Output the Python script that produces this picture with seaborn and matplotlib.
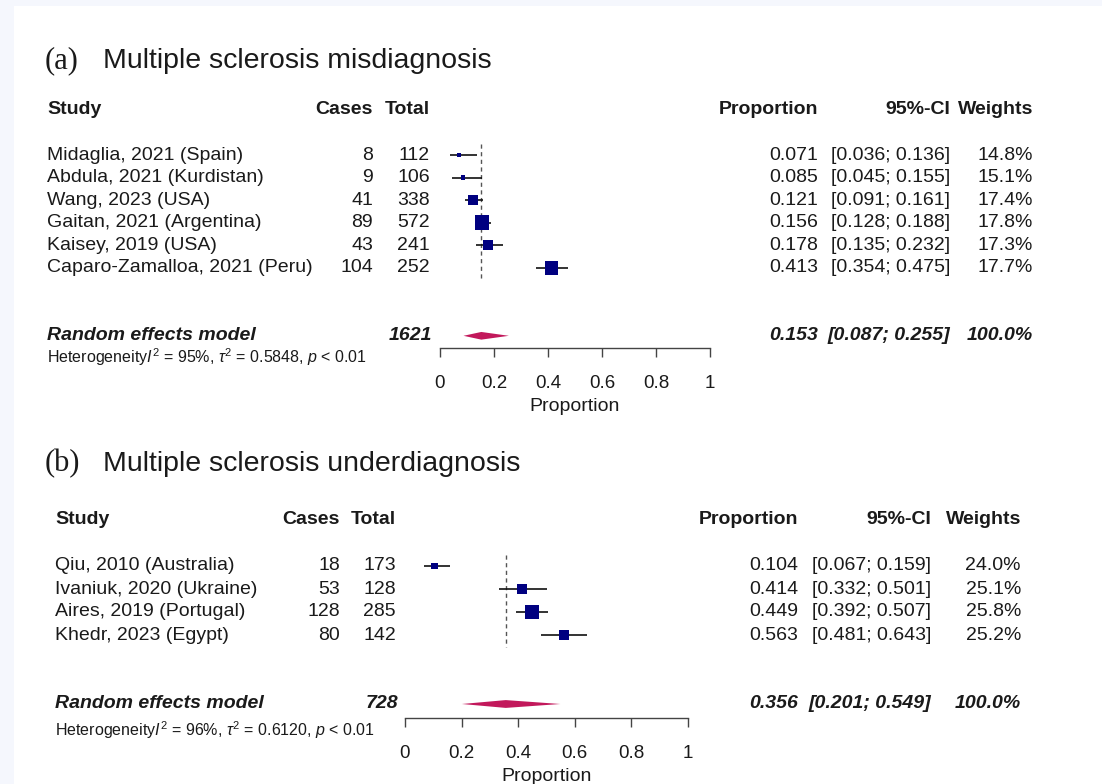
import numpy as np
import pandas as pd
import matplotlib
matplotlib.use("Agg")
import matplotlib.pyplot as plt
import matplotlib.transforms as mtransforms
from matplotlib.patches import Rectangle
import seaborn as sns

# ---------------------------------------------------------------
# data: (a) misdiagnosis
# ---------------------------------------------------------------
mis_studies = ["Midaglia, 2021 (Spain)", "Abdula, 2021 (Kurdistan)", "Wang, 2023 (USA)",
               "Gaitan, 2021 (Argentina)", "Kaisey, 2019 (USA)", "Caparo-Zamalloa, 2021 (Peru)"]
mis_cases = [8, 9, 41, 89, 43, 104]
mis_totals = [112, 106, 338, 572, 241, 252]
mis_prop = [0.071, 0.085, 0.121, 0.156, 0.178, 0.413]
mis_lo = [0.036, 0.045, 0.091, 0.128, 0.135, 0.354]
mis_hi = [0.136, 0.155, 0.161, 0.188, 0.232, 0.475]
mis_weights = [14.8, 15.1, 17.4, 17.8, 17.3, 17.7]
mis_re = [0.153, 0.087, 0.255]
mis_n = 1621
mis_het = ["95%", "0.5848", "0.01"]

# ---------------------------------------------------------------
# data: (b) underdiagnosis
# ---------------------------------------------------------------
und_studies = ["Qiu, 2010 (Australia)", "Ivaniuk, 2020 (Ukraine)",
               "Aires, 2019 (Portugal)", "Khedr, 2023 (Egypt)"]
und_cases = [18, 53, 128, 80]
und_totals = [173, 128, 285, 142]
und_prop = [0.104, 0.414, 0.449, 0.563]
und_lo = [0.067, 0.332, 0.392, 0.481]
und_hi = [0.159, 0.501, 0.507, 0.643]
und_weights = [24.0, 25.1, 25.8, 25.2]
und_re = [0.356, 0.201, 0.549]
und_n = 728
und_het = ["96%", "0.6120", "0.01"]

tick_vals = [0, 0.2, 0.4, 0.6, 0.8, 1]
tick_labels = ["0", "0.2", "0.4", "0.6", "0.8", "1"]

# ---------------------------------------------------------------
W, H = 1102, 784
TXT = "#1a1a1a"
NAVY = "#000080"
DIAMOND = "#c2185b"

sns.set_theme(style="white")
plt.rcParams["font.family"] = ["Liberation Sans", "DejaVu Sans"]
plt.rcParams["mathtext.fontset"] = "custom"
plt.rcParams["mathtext.rm"] = "Liberation Sans"
plt.rcParams["mathtext.it"] = "Liberation Sans:italic"


def fx(px):
    return px / W


def fy(py):
    return 1 - py / H


def draw_panel(fig, letter, title, title_y, studies, cases, totals, prop, lo, hi, weights,
               re, n_total, het, geo):
    k = len(studies)
    rows = np.arange(1, k + 1)
    re_row = geo["re_row"]
    top_row = -1.6
    dy = geo["dy"]
    y_top_px = geo["y1"] + (top_row - 1) * dy
    y_bot_px = geo["y1"] + (geo["axis_row"] - 1) * dy
    ax = fig.add_axes([fx(geo["x0"]), fy(y_bot_px), fx(geo["x1"]) - fx(geo["x0"]),
                       (y_bot_px - y_top_px) / H])
    ax.set_facecolor("none")

    # box size from inverse variance (logit scale), area ~ weight
    fe_w = np.array(cases) * (np.array(totals) - np.array(cases)) / np.array(totals)
    box_s = (1.7 * np.sqrt(fe_w) * 0.72) ** 2
    df = pd.DataFrame({"prop": prop, "row": rows, "lo": lo, "hi": hi, "box": box_s})

    ax.hlines(df["row"], df["lo"], df["hi"], color="#111111", lw=1.2, zorder=2)
    sns.scatterplot(data=df, x="prop", y="row", size="box",
                    sizes=(box_s.min(), box_s.max()), size_norm=(box_s.min(), box_s.max()),
                    marker="s", color=NAVY, linewidth=0, legend=False, ax=ax, zorder=3)
    ax.vlines(re[0], 0.5, k + 0.5, color="#555555", lw=1, linestyles=(0, (3, 2.5)), zorder=1)
    h = 0.17
    ax.fill([re[1], re[0], re[2], re[0]], [re_row, re_row - h, re_row, re_row + h],
            color=DIAMOND, lw=0, zorder=3)

    ax.set_xlim(0, 1)
    ax.set_ylim(geo["axis_row"], top_row)
    ax.set_yticks([])
    ax.set_xticks(tick_vals)
    ax.set_xticklabels(tick_labels)
    ax.tick_params(axis="x", direction="out", length=6.5, width=1, color="#444444",
                   pad=13, labelsize=13.5, labelcolor=TXT, bottom=True)
    ax.set_xlabel("Proportion", fontsize=14, color=TXT, labelpad=4)
    ax.set_ylabel("")
    sns.despine(ax=ax, left=True)
    ax.spines["bottom"].set_color("#444444")
    ax.spines["bottom"].set_linewidth(1)

    tr = mtransforms.blended_transform_factory(fig.transFigure, ax.transData)
    fs = 14
    c = geo["cols"]
    kw = dict(transform=tr, fontsize=fs, color=TXT, va="center", clip_on=False)

    # header
    ax.text(fx(c["study"]), -1, "Study", ha="left", fontweight="bold", **kw)
    ax.text(fx(c["cases"]), -1, "Cases", ha="right", fontweight="bold", **kw)
    ax.text(fx(c["total"]), -1, "Total", ha="right", fontweight="bold", **kw)
    ax.text(fx(c["prop"]), -1, "Proportion", ha="right", fontweight="bold", **kw)
    ax.text(fx(c["ci"]), -1, "95%-CI", ha="right", fontweight="bold", **kw)
    ax.text(fx(c["w"]), -1, "Weights", ha="right", fontweight="bold", **kw)

    for i in range(k):
        r = rows[i]
        ax.text(fx(c["study"]), r, studies[i], ha="left", **kw)
        ax.text(fx(c["cases"]), r, str(cases[i]), ha="right", **kw)
        ax.text(fx(c["total"]), r, str(totals[i]), ha="right", **kw)
        ax.text(fx(c["prop"]), r, f"{prop[i]:.3f}", ha="right", **kw)
        ax.text(fx(c["ci"]), r, f"[{lo[i]:.3f}; {hi[i]:.3f}]", ha="right", **kw)
        ax.text(fx(c["w"]), r, f"{weights[i]:.1f}%", ha="right", **kw)

    bi = dict(fontweight="bold", fontstyle="italic")
    ax.text(fx(c["study"]), re_row, "Random effects model", ha="left", **bi, **kw)
    ax.text(fx(c["n"]), re_row, str(n_total), ha="right", **bi, **kw)
    ax.text(fx(c["prop"]), re_row, f"{re[0]:.3f}", ha="right", **bi, **kw)
    ax.text(fx(c["ci"]), re_row, f"[{re[1]:.3f}; {re[2]:.3f}]", ha="right", **bi, **kw)
    ax.text(fx(c["w"]), re_row, "100.0%", ha="right", **bi, **kw)

    fig.text(fx(c["study"]), fy(geo["het_y"]),
             r"Heterogeneity$I^2$ = " + het[0] + r", $\tau^2$ = " + het[1]
             + r", $p$ < " + het[2],
             ha="left", va="center", fontsize=11.5, color=TXT)

    # panel title
    fig.text(fx(45), fy(title_y), f"({letter})", ha="left", va="center", fontsize=22,
             family="Liberation Serif", color=TXT)
    fig.text(fx(103), fy(title_y), title, ha="left", va="center", fontsize=20.5, color=TXT)
    return ax


fig = plt.figure(figsize=(W / 100, H / 100), dpi=100)
fig.patch.set_facecolor("#f5f7fd")
fig.add_artist(Rectangle((fx(14), 0), 1 - fx(14), fy(6), transform=fig.transFigure,
                         facecolor="white", edgecolor="none", zorder=-1))

geo_a = dict(x0=440, x1=710, y1=155, dy=22.6, re_row=9, axis_row=9.54, het_y=357,
             cols=dict(study=47, cases=373, total=430, n=432, prop=818, ci=950, w=1033))
geo_b = dict(x0=405, x1=688, y1=566, dy=23, re_row=7, axis_row=7.61, het_y=730,
             cols=dict(study=55, cases=340, total=396, n=398, prop=798, ci=931, w=1021))

draw_panel(fig, "a", "Multiple sclerosis misdiagnosis", 61, mis_studies, mis_cases, mis_totals,
           mis_prop, mis_lo, mis_hi, mis_weights, mis_re, mis_n, mis_het, geo_a)
draw_panel(fig, "b", "Multiple sclerosis underdiagnosis", 464, und_studies, und_cases, und_totals,
           und_prop, und_lo, und_hi, und_weights, und_re, und_n, und_het, geo_b)

fig.savefig("out.png", dpi=100, facecolor=fig.get_facecolor())
